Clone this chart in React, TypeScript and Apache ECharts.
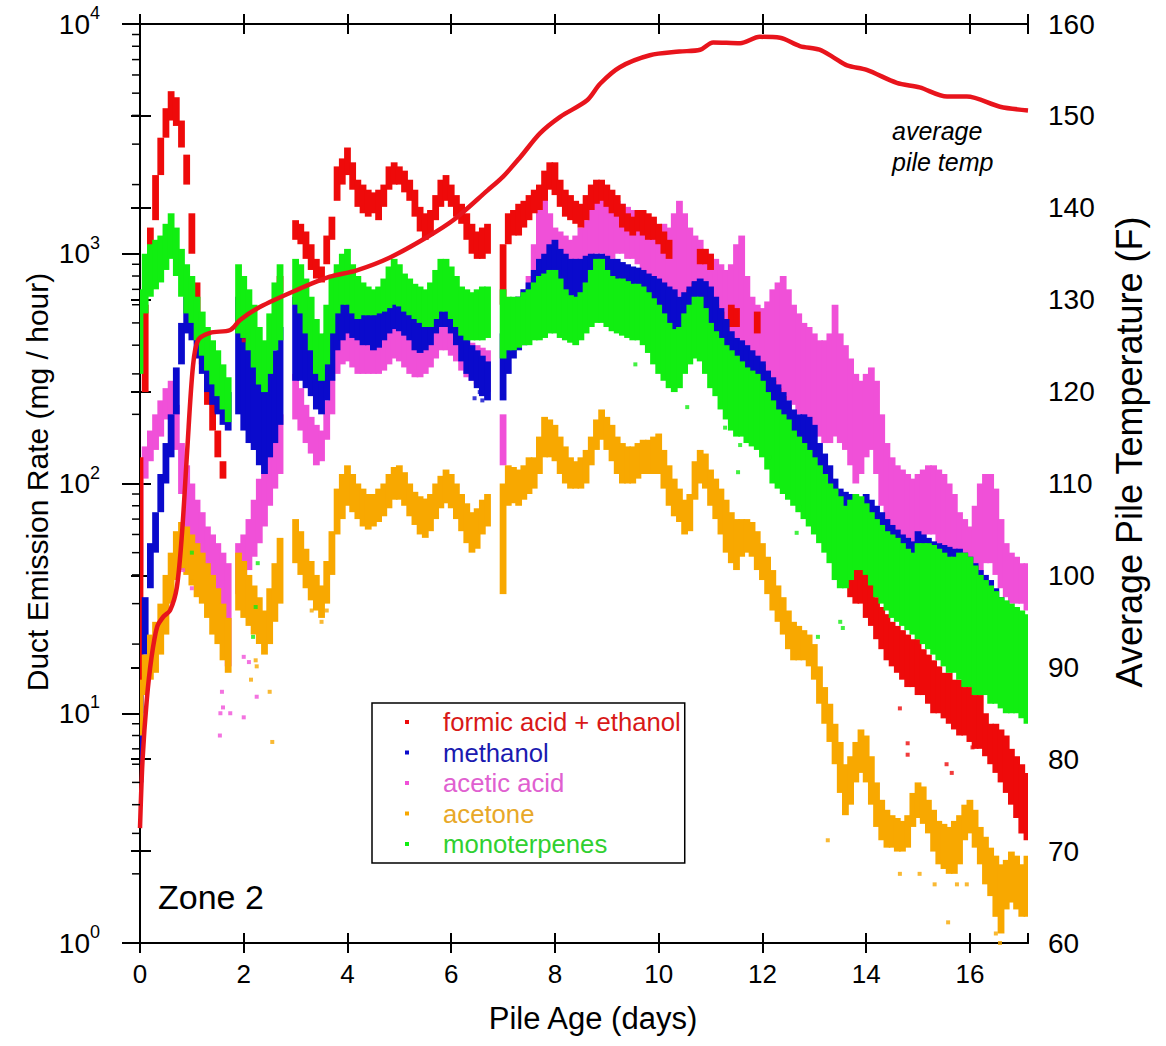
import React, { useEffect, useRef } from "react";
import * as echarts from "echarts";

const FONT = '"Liberation Sans", Arial, Helvetica, sans-serif';
const STEP = 0.1; // days between samples in the band arrays (index 0 = day 0.0)
const X_MAX = 17.12;

const xTickValues = [0, 2, 4, 6, 8, 10, 12, 14, 16];
const leftDecades = [1, 10, 100, 1000, 10000];
const rightTicks = [60, 70, 80, 90, 100, 110, 120, 130, 140, 150, 160];

const seriesNames = ["formic acid + ethanol", "methanol", "acetic acid", "acetone", "monoterpenes"];
const seriesColors = ["#ee0a0a", "#0a0acc", "#f050d8", "#f8a800", "#11ee11"];
const legendTextColors = ["#d81818", "#1a1ab0", "#e060d0", "#e8a828", "#30d030"];

// formic acid + ethanol (mg/hour), lower / upper edge of point cloud, every 0.1 day
const formicLo = [
  10, 250, 800, 1400, 2200, 3200, 3800, 3600, 2900, 2000,
  1000, 500, 330, 220, 170, 130, 105, null, null, null,
  380, null, null, null, null, null, null, 680, null, null,
  1150, 1100, 950, 850, 780, 750, 900, 1150, 1700, 2000,
  2200, 1900, 1600, 1500, 1450, 1500, 1400, 1600, 1900, 2000,
  2000, 1850, 1700, 1450, 1250, 1150, 1200, 1400, 1600, 1700,
  1600, 1450, 1350, 1150, 1000, 950, 950, 1000, null, null,
  600, 1100, 1200, 1200, 1300, 1400, 1500, 1550, 1700, 1900,
  1800, 1600, 1450, 1400, 1350, 1300, 1400, 1550, 1650, 1700,
  1600, 1500, 1450, 1300, 1250, 1200, 1250, 1200, 1150, 1150,
  1100, 1000, 950, 450, 420, 450, 500, 550, 900, 900,
  850, 450, 400, 380, 480, 480, 300, 280, 260, 450,
  250, 220, 200, 180, 170, 150, 140, 120, 110, 100,
  90, 75, 65, 55, 48, 42, 38, 32, 30, 30,
  26, 24, 21, 19, 17, 16, 15, 14, 13, 13,
  12, 12, 11, 10, 10, 9.5, 9, 8.5, 8, 8,
  7.5, 7, 7, 6.5, 6, 5.5, 5, 4.5, 4, 3.5,
  3, 2.8,
];
const formicHi = [
  130, 600, 1300, 2200, 3200, 4300, 5100, 4800, 3800, 2700,
  1500, 750, 450, 320, 230, 170, 125, null, null, null,
  430, null, null, null, null, null, null, 800, null, null,
  1400, 1350, 1250, 1100, 950, 880, 1200, 1450, 2400, 2600,
  2900, 2500, 2100, 2000, 1900, 1850, 1900, 2000, 2400, 2500,
  2400, 2300, 2100, 1900, 1600, 1500, 1550, 1800, 2100, 2200,
  2000, 1800, 1650, 1500, 1350, 1250, 1300, 1350, null, null,
  1100, 1500, 1550, 1650, 1700, 1800, 1900, 2000, 2300, 2500,
  2500, 2100, 1900, 1800, 1700, 1650, 1800, 2000, 2100, 2100,
  2000, 1900, 1800, 1650, 1500, 1450, 1550, 1550, 1500, 1450,
  1350, 1250, 1150, 650, 600, 650, 700, 750, 1050, 1050,
  1000, 600, 560, 500, 600, 580, 400, 380, 360, 560,
  330, 300, 280, 260, 240, 220, 200, 190, 180, 170,
  125, 110, 95, 80, 70, 60, 52, 48, 45, 45,
  42, 38, 32, 29, 27, 25, 24, 23, 22, 21,
  21, 19, 18, 17, 16, 15, 15, 14, 14, 13,
  13, 12, 12, 10, 9, 9, 8.5, 8, 7, 6.5,
  6, 5.5,
];

// methanol
const methanolLo = [
  5, 18, 35, 50, 75, 100, 130, 200, 330, 450,
  420, 350, 300, 250, 220, 200, 180, 170, null, 200,
  170, 150, 140, 120, 110, 130, 150, 180, null, null,
  280, 280, 260, 240, 210, 200, 230, 280, 380, 420,
  450, 430, 420, 400, 400, 380, 390, 420, 450, 470,
  460, 440, 420, 380, 370, 380, 400, 450, 480, 480,
  450, 400, 340, 300, 280, 260, 240, 230, null, null,
  230, 300, 350, 380, 400, 450, 500, 550, 600, 650,
  650, 600, 580, 560, 560, 580, 600, 620, 650, 650,
  620, 600, 580, 560, 550, 550, 540, 520, 500, 480,
  460, 420, 400, 380, 360, 380, 400, 420, 420, 400,
  380, 350, 320, 300, 280, 260, 250, 240, 230, 220,
  210, 190, 170, 160, 150, 140, 130, 120, 110, 100,
  95, 85, 80, 75, 70, 68, 65, 62, 60, 58,
  55, 50, 48, 45, 42, 40, 38, 36, 35, 34,
  33, 32, 32, 31, 30, 30, 29, 28, 28, 27,
  26, 25, 24, 23, 22, 21, 20, 19, 18, 17,
  16, 15,
];
const methanolHi = [
  12, 32, 55, 75, 110, 150, 200, 320, 500, 650,
  600, 520, 450, 380, 330, 300, 270, 250, null, 650,
  600, 500, 420, 350, 300, 320, 380, 480, null, null,
  650, 600, 550, 480, 420, 380, 450, 550, 650, 700,
  750, 700, 650, 650, 650, 650, 650, 650, 680, 700,
  680, 650, 620, 600, 580, 580, 600, 650, 680, 680,
  640, 600, 520, 450, 400, 380, 360, 340, null, null,
  450, 550, 600, 650, 700, 750, 850, 950, 1000, 1100,
  1150, 1050, 1000, 950, 950, 950, 980, 1000, 1000, 1000,
  980, 950, 950, 920, 900, 880, 870, 850, 820, 800,
  780, 750, 720, 700, 650, 680, 720, 760, 780, 760,
  720, 650, 580, 520, 460, 430, 420, 400, 380, 360,
  340, 310, 290, 270, 250, 230, 210, 200, 200, 195,
  180, 150, 135, 120, 105, 95, 92, 90, 88, 85,
  90, 85, 80, 75, 70, 66, 63, 60, 58, 56,
  62, 60, 58, 56, 55, 54, 53, 52, 52, 50,
  48, 45, 42, 40, 38, 35, 32, 30, 28, 27,
  26, 25,
];

// acetic acid
const aceticLo = [
  40, 105, 125, 140, 160, 190, 190, 140, 90, 60,
  45, 40, 35, 30, 27, 24, 20, 16, null, 33,
  38, 42, 48, 55, 65, 80, 95, 110, null, null,
  190, 170, 150, 135, 120, 125, 155, 200, 300, 330,
  340, 320, 300, 300, 300, 300, 300, 310, 330, 350,
  340, 320, 300, 290, 290, 300, 320, 350, 380, 380,
  360, 340, 310, 290, 280, 270, 260, 250, null, null,
  120, 400, 420, 450, 480, 550, 650, 750, 800, 800,
  750, 700, 700, 700, 700, 750, 850, 950, 1000, 1000,
  950, 950, 1000, 1000, 950, 950, 900, 850, 800, 750,
  700, 700, 650, 650, 650, 650, 620, 600, 600, 580,
  560, 520, 480, 450, 430, 420, 400, 350, 320, 300,
  280, 260, 250, 250, 240, 230, 220, 200, 180, 170,
  160, 160, 150, 150, 160, 150, 140, 120, 100, 110,
  130, 140, 110, 80, 65, 60, 55, 50, 45, 45,
  50, 55, 60, 60, 55, 50, 45, 40, 35, 35,
  35, 35, 40, 45, 45, 40, 35, 32, 30, 30,
  30, 28,
];
const aceticHi = [
  110, 145, 170, 200, 230, 260, 280, 220, 150, 120,
  100, 85, 75, 65, 60, 55, 50, 45, null, 55,
  60, 70, 85, 105, 130, 160, 180, 200, null, null,
  300, 260, 220, 195, 180, 170, 230, 450, 550, 580,
  600, 540, 500, 480, 470, 470, 480, 500, 520, 540,
  520, 490, 460, 440, 440, 460, 480, 520, 560, 560,
  540, 500, 460, 430, 410, 400, 390, 380, null, null,
  200, 600, 620, 650, 700, 800, 1100, 1600, 2000, 1500,
  1300, 1250, 1200, 1150, 1200, 1300, 1400, 1600, 1800, 1900,
  1700, 1600, 1700, 1650, 1600, 1550, 1500, 1450, 1400, 1350,
  1300, 1350, 1300, 1500, 1700, 1500, 1300, 1200, 1150, 1050,
  1000, 950, 900, 850, 900, 1100, 1200, 800, 650, 600,
  580, 620, 700, 750, 800, 700, 600, 550, 500, 480,
  450, 420, 420, 450, 600, 450, 400, 350, 300, 280,
  300, 320, 280, 200, 150, 130, 120, 115, 110, 105,
  110, 115, 120, 120, 115, 110, 100, 90, 75, 70,
  65, 80, 100, 110, 110, 95, 70, 55, 50, 48,
  45, 45,
];

// acetone
const acetoneLo = [
  8, 12, 14, 15, 18, 22, 30, 38, 42, 40,
  36, 32, 30, 26, 22, 20, 17, 15, null, 28,
  26, 24, 22, 20, 18, 20, 25, 30, null, null,
  45, 40, 35, 31, 28, 26, 30, 40, 60, 70,
  80, 75, 70, 65, 63, 65, 68, 72, 78, 85,
  85, 80, 72, 66, 60, 58, 62, 70, 78, 82,
  78, 70, 62, 55, 50, 52, 60, 65, null, null,
  33, 80, 82, 80, 85, 90, 95, 110, 130, 130,
  125, 110, 100, 95, 95, 95, 100, 120, 140, 155,
  140, 125, 110, 100, 100, 100, 105, 110, 110, 110,
  110, 95, 80, 72, 68, 60, 62, 85, 100, 95,
  80, 70, 60, 50, 45, 42, 48, 50, 48, 42,
  38, 33, 28, 25, 22, 19, 17, 17, 17, 16,
  14, 11, 9, 7.5, 6, 4.5, 3.6, 4, 5, 5.5,
  5, 4, 3.2, 2.8, 2.6, 2.6, 2.5, 2.5, 2.6, 3.2,
  3.5, 3.3, 3, 2.5, 2.2, 2.1, 2, 2, 2.2, 2.8,
  3, 2.6, 2.2, 1.8, 1.6, 1.3, 1.1, 1.4, 1.5, 1.4,
  1.3, 1.3,
];
const acetoneHi = [
  14, 18, 22, 25, 30, 40, 50, 62, 68, 65,
  60, 55, 50, 45, 40, 35, 30, 26, null, 50,
  46, 40, 36, 32, 28, 35, 45, 58, null, null,
  70, 62, 52, 46, 40, 36, 46, 62, 95, 110,
  120, 110, 100, 95, 90, 90, 95, 100, 110, 118,
  120, 112, 100, 92, 88, 86, 90, 100, 108, 115,
  110, 100, 90, 82, 75, 78, 85, 90, null, null,
  100, 120, 118, 115, 120, 130, 130, 160, 195, 190,
  180, 160, 145, 130, 125, 130, 140, 160, 190, 210,
  195, 180, 160, 150, 145, 145, 150, 155, 155, 160,
  165, 140, 120, 105, 95, 85, 90, 125, 140, 135,
  115, 105, 95, 85, 75, 70, 70, 70, 68, 62,
  55, 48, 42, 36, 32, 28, 25, 24, 23, 22,
  20, 16, 13, 11, 9, 7.5, 6, 6.5, 7.5, 8.5,
  8, 6.5, 5, 4.2, 3.8, 3.6, 3.5, 3.4, 3.6, 4.5,
  5, 4.8, 4.2, 3.8, 3.4, 3.3, 3.2, 3.4, 3.6, 4,
  4.2, 3.8, 3.2, 2.9, 2.6, 2.4, 2.2, 2.3, 2.5, 2.4,
  2.2, 2.4,
];

// monoterpenes
const monoLo = [
  300, 550, 650, 700, 750, 850, 950, 800, 650, 550,
  500, 420, 360, 310, 270, 240, 210, 185, null, 450,
  430, 380, 320, 270, 250, 300, 380, 420, null, null,
  600, 550, 450, 380, 300, 280, 330, 450, 550, 600,
  600, 550, 520, 540, 540, 540, 550, 560, 580, 600,
  590, 560, 540, 520, 500, 480, 480, 520, 560, 560,
  520, 480, 440, 420, 420, 420, 420, 430, null, null,
  350, 380, 380, 390, 400, 400, 420, 420, 430, 450,
  450, 430, 420, 410, 400, 420, 450, 480, 500, 500,
  480, 460, 450, 440, 430, 420, 420, 400, 370, 330,
  300, 280, 260, 250, 260, 300, 330, 350, 340, 300,
  260, 240, 210, 190, 170, 160, 160, 150, 145, 140,
  130, 115, 100, 95, 90, 85, 80, 75, 70, 65,
  60, 55, 50, 45, 38, 35, 35, 38, 42, 42,
  40, 36, 32, 30, 28, 26, 25, 24, 23, 22,
  21, 20, 19, 18, 17, 16, 15, 15, 14, 13,
  13, 12, 12, 12, 11, 11, 10.5, 10, 10, 10,
  9.5, 9,
];
const monoHi = [
  700, 1000, 1100, 1150, 1200, 1350, 1500, 1300, 1050, 900,
  800, 650, 560, 480, 420, 380, 330, 290, null, 900,
  800, 700, 600, 480, 420, 550, 750, 900, null, null,
  950, 900, 780, 650, 520, 450, 600, 800, 900, 1000,
  1050, 900, 800, 750, 720, 700, 720, 780, 880, 950,
  900, 820, 780, 740, 720, 700, 750, 850, 950, 950,
  880, 800, 720, 700, 680, 700, 720, 720, null, null,
  700, 650, 650, 650, 680, 700, 750, 800, 820, 850,
  850, 780, 700, 660, 650, 680, 750, 850, 950, 950,
  850, 800, 780, 780, 760, 740, 740, 720, 680, 640,
  600, 550, 500, 470, 480, 550, 600, 650, 650, 580,
  500, 460, 430, 400, 380, 360, 340, 320, 310, 300,
  280, 250, 230, 210, 200, 190, 170, 160, 150, 140,
  130, 120, 110, 100, 95, 88, 80, 85, 90, 88,
  82, 75, 70, 66, 62, 60, 58, 55, 52, 50,
  55, 55, 55, 54, 52, 50, 48, 48, 50, 50,
  48, 44, 40, 38, 36, 34, 32, 31, 30, 29,
  28, 27,
];

// scattered single points lying outside the main clouds: [day, mg/hour]
const formicStray = [[14.8, 7.4], [14.8, 6.6], [14.65, 10.5], [15.55, 6.0], [15.65, 5.5], [16.05, 7.1], [2.0, 420], [1.4, 200]];
const methanolStray = [[6.45, 235], [6.6, 230], [6.55, 250], [7.0, 240]];
const aceticStray = [[1.54, 8.0], [1.55, 10], [1.74, 10], [2.0, 9.6], [1.6, 10.6], [1.58, 12.4], [2.25, 11.8], [2.0, 17.6], [2.1, 16.7], [1.0, 35], [0.83, 42]];
const acetoneStray = [[2.55, 7.5], [2.5, 12.4], [2.25, 16], [2.23, 17], [2.14, 14], [3.5, 25], [3.31, 28], [3.6, 28], [1.0, 39], [13.26, 2.8], [14.65, 2.0], [15.03, 2.0], [15.32, 1.8], [15.58, 1.23], [15.75, 1.8], [15.94, 1.8], [16.58, 1.0], [16.5, 1.1]];
const monoStray = [[2.18, 21.5], [2.23, 29], [2.27, 45], [1.0, 50], [9.55, 330], [10.55, 215], [11.57, 147], [11.28, 175], [11.53, 112], [12.14, 130], [12.72, 79], [12.66, 61], [13.5, 25], [13.55, 23.5], [13.07, 21.5]];

// average pile temperature (F)
const tempDays = [0, 0.05, 0.13, 0.22, 0.33, 0.45, 0.58, 0.71, 0.81, 0.91, 1.02, 1.12, 1.35, 1.74, 1.93, 2.31, 3.0, 3.66, 4.18, 4.82, 5.53, 6.05, 6.7, 7.0, 7.33, 7.71, 8.1, 8.62, 8.87, 9.25, 9.83, 10.4, 10.8, 11.05, 11.57, 11.95, 12.34, 12.72, 13.1, 13.36, 13.63, 14.01, 14.59, 15.03, 15.56, 15.94, 16.58, 17.12];
const tempValues = [72.5, 80, 86.4, 91, 94.4, 95.5, 96.2, 98.7, 104.6, 113.6, 122.7, 125.6, 126.4, 126.7, 127.8, 129.2, 131, 132.5, 133.2, 134.6, 136.8, 138.7, 141.9, 143.4, 145.5, 148.1, 149.9, 151.7, 153.5, 155.3, 156.6, 157.0, 157.2, 158.0, 157.9, 158.6, 158.5, 157.6, 157.2, 156.4, 155.5, 155.0, 153.6, 153.1, 152.1, 152.1, 151.0, 150.6];

function toBand(lo: (number | null)[], hi: (number | null)[]) {
  const out: number[][] = [];
  for (let i = 0; i < lo.length; i++) {
    const l = lo[i];
    const h = hi[i];
    if (l == null || h == null) continue;
    out.push([Math.round(i * STEP * 100) / 100, l, h]);
  }
  return out;
}

function bandSeries(idx: number, lo: (number | null)[], hi: (number | null)[], z: number) {
  const color = seriesColors[idx];
  return {
    type: "custom",
    name: seriesNames[idx],
    clip: true,
    silent: true,
    z,
    itemStyle: { color },
    encode: { x: 0, y: [1, 2] },
    data: toBand(lo, hi),
    renderItem: (_p: any, api: any) => {
      const x = api.value(0);
      const a = api.coord([x - STEP / 2, api.value(2)]);
      const b = api.coord([x + STEP / 2, api.value(1)]);
      return {
        type: "rect",
        shape: { x: a[0] - 0.8, y: a[1], width: b[0] - a[0] + 1.6, height: Math.max(2, b[1] - a[1]) },
        style: { fill: color },
      };
    },
  };
}

function straySeries(idx: number, pts: number[][], z: number) {
  return {
    type: "scatter",
    name: seriesNames[idx],
    silent: true,
    z,
    symbol: "rect",
    symbolSize: 4,
    itemStyle: { color: seriesColors[idx] },
    data: pts,
  };
}

const minorTicks: number[] = [];
for (let k = 0; k < 4; k++) for (let m = 2; m <= 9; m++) minorTicks.push(m * Math.pow(10, k));

export default function App() {
  const ref = useRef<HTMLDivElement>(null);
  useEffect(() => {
    if (!ref.current) return;
    const chart = echarts.init(ref.current, undefined, { renderer: "svg" });
    const axisLine = { show: true, lineStyle: { color: "#000", width: 2 } };
    const tickStyle = { color: "#000", width: 2 };
    const xBase = { type: "value", min: 0, max: X_MAX, interval: 2, splitLine: { show: false }, axisLine };
    const xFmt = (v: number) => (xTickValues.indexOf(v) >= 0 ? String(v) : "");
    const option: any = {
      animation: false,
      backgroundColor: "#fff",
      grid: { left: 140, right: 138, top: 24, bottom: 103 },
      xAxis: [
        { ...xBase, position: "bottom", axisTick: { inside: false, length: 10, lineStyle: tickStyle }, axisLabel: { fontSize: 26, fontFamily: FONT, color: "#000", margin: 18, formatter: xFmt, showMaxLabel: false } },
        { ...xBase, position: "bottom", axisTick: { inside: true, length: 10, lineStyle: tickStyle }, axisLabel: { show: false } },
        { ...xBase, position: "top", axisTick: { inside: false, length: 10, lineStyle: tickStyle }, axisLabel: { show: false } },
        { ...xBase, position: "top", axisTick: { inside: true, length: 10, lineStyle: tickStyle }, axisLabel: { show: false } },
      ],
      yAxis: [
        {
          type: "log", logBase: 10, min: leftDecades[0], max: leftDecades[leftDecades.length - 1], position: "left",
          splitLine: { show: false }, axisLine,
          axisTick: { inside: false, length: 18, lineStyle: tickStyle },
          axisLabel: {
            margin: 40,
            formatter: (v: number) => `{b|10}{s|${Math.round(Math.log10(v))}}`,
            rich: {
              b: { fontSize: 28, fontFamily: FONT, color: "#000", padding: [6, 0, 6, 0] },
              s: { fontSize: 18, fontFamily: FONT, color: "#000", verticalAlign: "top" },
            },
          },
        },
        {
          type: "value", min: rightTicks[0], max: rightTicks[rightTicks.length - 1], interval: 10, position: "right",
          splitLine: { show: false }, axisLine,
          axisTick: { inside: false, length: 11, lineStyle: tickStyle },
          axisLabel: { fontSize: 28, fontFamily: FONT, color: "#000", margin: 20 },
        },
        {
          type: "value", min: rightTicks[0], max: rightTicks[rightTicks.length - 1], interval: 10, position: "right",
          splitLine: { show: false }, axisLine,
          axisTick: { inside: true, length: 9, lineStyle: tickStyle },
          axisLabel: { show: false },
        },
      ],
      legend: {
        left: 372, top: 703, orient: "vertical",
        padding: [6, 4, 6, 33], itemGap: 4.5, itemWidth: 4, itemHeight: 4,
        borderColor: "#000", borderWidth: 1.5, backgroundColor: "#fff",
        selectedMode: false,
        textStyle: { fontSize: 25.7, fontFamily: FONT, padding: [0, 0, 0, 29], lineHeight: 25 },
        data: seriesNames.map((n, i) => ({ name: n, icon: "rect", itemStyle: { color: seriesColors[i] }, textStyle: { color: legendTextColors[i] } })),
      },
      series: [
        bandSeries(2, aceticLo, aceticHi, 2),
        straySeries(2, aceticStray, 2),
        bandSeries(0, formicLo, formicHi, 2),
        straySeries(0, formicStray, 2),
        bandSeries(1, methanolLo, methanolHi, 2),
        straySeries(1, methanolStray, 2),
        bandSeries(3, acetoneLo, acetoneHi, 2),
        straySeries(3, acetoneStray, 2),
        bandSeries(4, monoLo, monoHi, 2),
        straySeries(4, monoStray, 2),
        {
          type: "line", name: "average pile temp", yAxisIndex: 1, silent: true,
          data: tempDays.map((d, i) => [d, tempValues[i]]),
          symbol: "none", smooth: 0.3, z: 5,
          lineStyle: { color: "#e8141c", width: 4.5 },
        },
        {
          type: "custom", name: "minor", silent: true, clip: false, z: 6,
          data: minorTicks.map((v) => [0, v]),
          renderItem: (_p: any, api: any) => {
            const p = api.coord([api.value(0), api.value(1)]);
            return { type: "line", shape: { x1: p[0] - 8, y1: p[1], x2: p[0], y2: p[1] }, style: { stroke: "#000", lineWidth: 1.5 } };
          },
        },
      ],
      graphic: [
        { type: "text", x: 37, y: 482, rotation: Math.PI / 2, style: { text: "Duct Emission Rate (mg / hour)", font: `30px ${FONT}`, fill: "#000", textAlign: "center", textVerticalAlign: "middle" } },
        { type: "text", x: 1129, y: 452, rotation: Math.PI / 2, style: { text: "Average Pile Temperature (F)", font: `36px ${FONT}`, fill: "#000", textAlign: "center", textVerticalAlign: "middle" } },
        { type: "text", x: 593, y: 1018, style: { text: "Pile Age (days)", font: `31px ${FONT}`, fill: "#000", textAlign: "center", textVerticalAlign: "middle" } },
        { type: "text", x: 158, y: 897, style: { text: "Zone 2", font: `34px ${FONT}`, fill: "#000", textAlign: "left", textVerticalAlign: "middle" } },
        { type: "text", x: 892, y: 131, style: { text: "average", font: `italic 25px ${FONT}`, fill: "#000", textAlign: "left", textVerticalAlign: "middle" } },
        { type: "text", x: 892, y: 162, style: { text: "pile temp", font: `italic 25px ${FONT}`, fill: "#000", textAlign: "left", textVerticalAlign: "middle" } },
      ],
    };
    chart.setOption(option);
    return () => chart.dispose();
  }, []);
  return <div ref={ref} style={{ position: "absolute", left: 0, top: 0, width: 1166, height: 1046 }} />;
}
